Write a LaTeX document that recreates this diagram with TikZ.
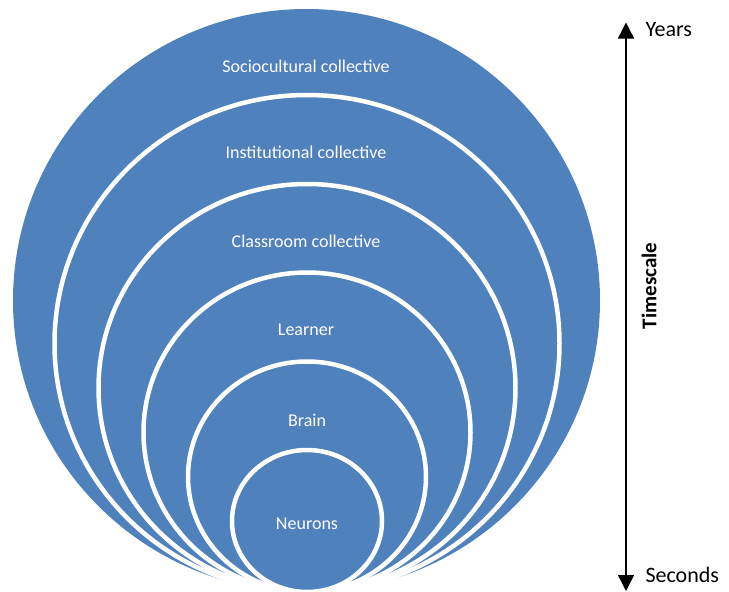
\documentclass[tikz,border=0pt]{standalone}
\usepackage{fontspec}
\setmainfont{Carlito}
\usepackage{xcolor}
\usepackage{tikz}
\definecolor{ringblue}{HTML}{4F81BD}
\usetikzlibrary{arrows.meta}

\begin{document}
\begin{tikzpicture}[
          x = 1pt, y = -1pt,
          every node/.style = {font=\fontsize{18}{20}\selectfont},
          disc/.style = {fill=ringblue},
          ring/.style = {fill=ringblue, draw=white, line width=4.5pt},
          lbl/.style = {text=white},
          side/.style = {font=\fontsize{22}{24}\selectfont, anchor=west},
          arr/.style = {{Triangle[width=16pt, length=16pt]}-{Triangle[width=16pt, length=16pt]}, line width=1.4pt},
        ]
        \useasboundingbox (0,0) rectangle (729,592);

        %% Nested circles, all touching at the bottom
        \fill[disc] (306.5,300.5) ellipse [x radius=293.5pt, y radius=291.5pt];
        \foreach \ytop/\rx in {95/252.5, 184/208.5, 272.5/163.5, 361.5/119, 450/75} {
          \pgfmathsetmacro{\ry}{(592-\ytop)/2}
          \draw[ring] (307,{(\ytop+592)/2}) ellipse [x radius=\rx pt, y radius=\ry pt];
        }

        %% Labels
        \node[lbl] (socio)   at (306,66)  {Sociocultural collective};
        \node[lbl] (inst)    at (306,152) {Institutional collective};
        \node[lbl] (class)   at (306,241) {Classroom collective};
        \node[lbl] (learner) at (306,330) {Learner};
        \node[lbl] (brain)   at (307,420) {Brain};
        \node[lbl] (neurons) at (307,524) {Neurons};

        %% Timescale axis
        \coordinate (years end)   at (626,22.5);
        \coordinate (seconds end) at (626,591);
        \draw[arr] (seconds end) -- (years end);
        \node[side] (years)   at (642,29.5) {Years};
        \node[side] (seconds) at (642,575)  {Seconds};
        \node[font=\bfseries\fontsize{21}{24}\selectfont, rotate=90] (timescale) at (649,286) {Timescale};
      \end{tikzpicture}
\end{document}
